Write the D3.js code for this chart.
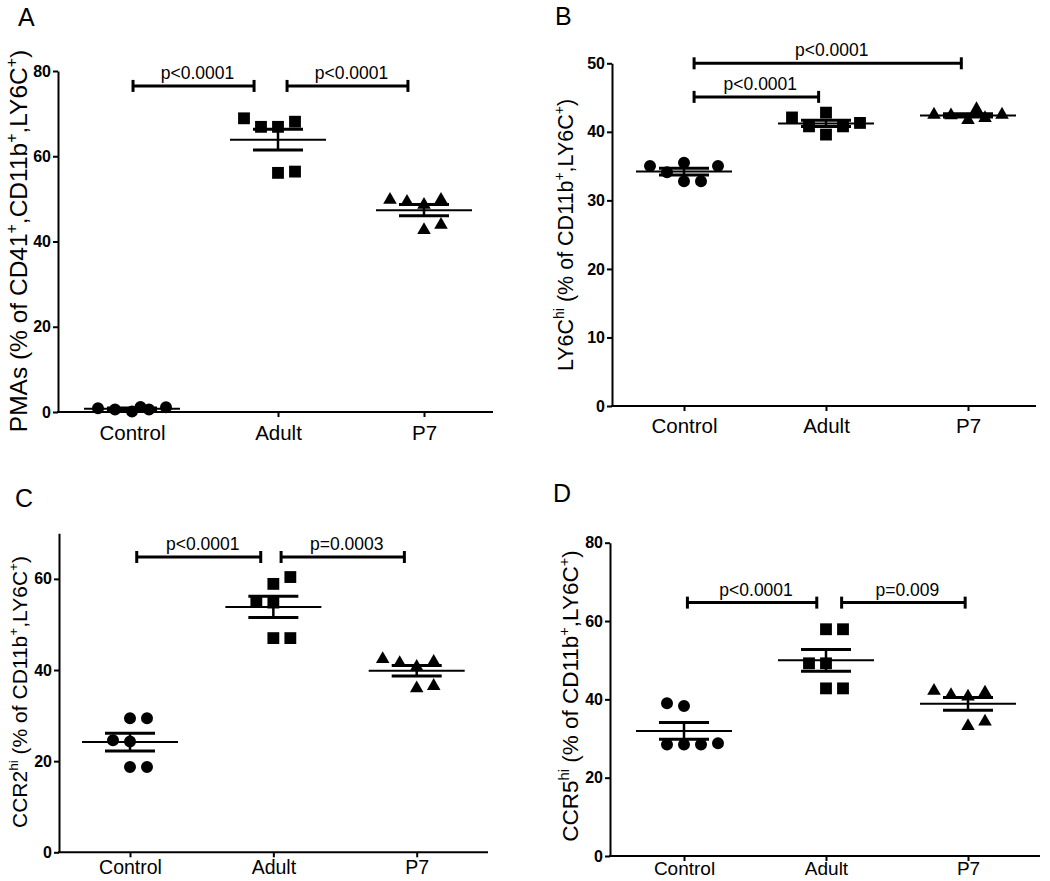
<!DOCTYPE html>
<html><head><meta charset="utf-8">
<script src="https://cdn.jsdelivr.net/npm/d3@7"></script>
<style>body{margin:0;background:#fff}svg{display:block}</style>
</head><body>
<svg id="chart" width="1050" height="881"></svg>
<script>
const categories = ["Control", "Adult", "P7"];

// Panel A: PMAs
const pmasControl = [0.9, 0.6, 0.1, 1.2, 0.6, 1.1];
const pmasAdult   = [68.9, 66.9, 66.9, 68.1, 56.1, 56.4];
const pmasP7      = [49.8, 49.3, 48.6, 49.8, 42.7, 43.9];
// Panel B: LY6C hi
const ly6cControl = [35.0, 34.1, 35.5, 32.8, 32.8, 35.0];
const ly6cAdult   = [42.1, 40.8, 42.8, 39.6, 40.8, 41.3];
const ly6cP7      = [42.5, 42.4, 41.7, 43.3, 42.0, 42.5];
// Panel C: CCR2 hi
const ccr2Control = [24.6, 24.3, 29.4, 29.4, 18.7, 18.7];
const ccr2Adult   = [55.0, 54.8, 58.9, 60.4, 47.0, 47.0];
const ccr2P7      = [42.4, 41.5, 40.7, 41.8, 36.0, 36.5];
// Panel D: CCR5 hi
const ccr5Control = [39.0, 38.3, 28.5, 28.5, 28.5, 28.8];
const ccr5Adult   = [49.2, 49.2, 57.9, 57.9, 42.8, 42.8];
const ccr5P7      = [42.2, 41.1, 40.7, 41.7, 33.2, 34.3];

// scatter spread columns (in marker steps) per group
const colsA = [[-2,-1,0,0.5,1,2], [-2,-1,0,1,0,1], [-2,-1,0,1,0,1]];
const colsB = [[-2,-1,0,0,1,2], [-2,-1,0,0,1,2], [-2,-1,0,0.5,1,2]];
const colsC = [[-1,0,0,1,0,1], [-1,0,0,1,0,1], [-2,-1,0,1,0,1]];
const colsD = [[-1,0,-1,0,1,2], [-1,0,0,1,0,1], [-2,-1,0,1,0,1]];

// y ticks
const ticksA = [0, 20, 40, 60, 80];
const ticksB = [0, 10, 20, 30, 40, 50];
const ticksC = [0, 20, 40, 60];
const ticksD = [0, 20, 40, 60, 80];

// significance brackets: [from category index, to category index, value, label]
const bracketsA = [[0.007, 0.836, 76.5, "p<0.0001"], [1.062, 1.890, 76.5, "p<0.0001"]];
const bracketsB = [[0.071, 1.953, 50.0, "p<0.0001"], [0.071, 0.948, 45.1, "p<0.0001"]];
const bracketsC = [[0.047, 0.912, 64.8, "p<0.0001"], [1.054, 1.914, 64.8, "p=0.0003"]];
const bracketsD = [[0.024, 0.935, 64.7, "p<0.0001"], [1.110, 1.980, 64.7, "p=0.009"]];

// y-axis titles: [text, isSuperscript]
const titleA = [["PMAs (% of CD41",0],["+",1],[",CD11b",0],["+",1],[",LY6C",0],["+",1],[")",0]];
const titleB = [["LY6C",0],["hi",1],[" (% of CD11b",0],["+",1],[",LY6C",0],["+",1],[")",0]];
const titleC = [["CCR2",0],["hi",1],[" (% of CD11b",0],["+",1],[",LY6C",0],["+",1],[")",0]];
const titleD = [["CCR5",0],["hi",1],[" (% of CD11b",0],["+",1],[",LY6C",0],["+",1],[")",0]];

const svg = d3.select("#chart");
const FONT = "'Liberation Sans', Arial, Helvetica, sans-serif";
const shapes = [d3.symbolCircle, d3.symbolSquare, d3.symbolTriangle];
const sizes = [113, 140, 80];

function panel(cfg) {
  const g = svg.append("g");
  const y = d3.scaleLinear().domain([0, cfg.ymax]).range([cfg.y0, cfg.ytop]);
  const x = d3.scaleLinear().domain([0, 2]).range([cfg.c0, cfg.c2]);

  // panel letter
  g.append("text").attr("x", cfg.lx).attr("y", cfg.ly)
    .attr("font-family", FONT).attr("font-size", 25).text(cfg.letter);

  // y axis
  const ya = g.append("g").attr("transform", `translate(${cfg.ax},0)`)
    .call(d3.axisLeft(y).tickValues(cfg.ticks).tickSize(5).tickSizeOuter(0).tickPadding(2));
  ya.select(".domain").attr("stroke-width", 2);
  ya.selectAll(".tick line").attr("stroke-width", 2);
  ya.selectAll(".tick text").attr("font-family", FONT).attr("font-size", 16)
    .attr("font-weight", "bold").attr("fill", "#000");

  // x axis
  g.append("line").attr("x1", cfg.ax - 1).attr("x2", cfg.xend)
    .attr("y1", cfg.y0).attr("y2", cfg.y0).attr("stroke", "#000").attr("stroke-width", 2);
  const xa = g.append("g").attr("transform", `translate(0,${cfg.y0})`)
    .call(d3.axisBottom(x).tickValues([0, 1, 2]).tickFormat(i => categories[i])
      .tickSize(5).tickSizeOuter(0).tickPadding(cfg.xpad));
  xa.select(".domain").remove();
  xa.selectAll(".tick line").attr("stroke-width", 2);
  xa.selectAll(".tick text").attr("font-family", FONT).attr("font-size", cfg.xfs).attr("fill", "#000");

  // y title
  const t = g.append("text")
    .attr("transform", `translate(${cfg.tx},${cfg.ty}) rotate(-90)`)
    .attr("text-anchor", "middle").attr("font-family", FONT).attr("font-size", cfg.tfs).attr("fill", "#000");
  let prevSup = 0;
  cfg.title.forEach(([s, sup]) => {
    const ts = t.append("tspan").text(s);
    if (sup) ts.attr("font-size", cfg.tfs * 0.65).attr("dy", -cfg.tfs * 0.42);
    else if (prevSup) ts.attr("dy", cfg.tfs * 0.42);
    prevSup = sup;
  });

  // points
  const step = 17;
  cfg.groups.forEach((vals, gi) => {
    const sym = d3.symbol().type(shapes[gi]).size(sizes[gi]);
    g.append("g").selectAll("path").data(vals).join("path")
      .attr("d", sym)
      .attr("transform", (v, j) => `translate(${x(gi) + cfg.cols[gi][j] * step},${y(v)})`)
      .attr("fill", "#000");
  });

  // mean and SEM
  cfg.groups.forEach((vals, gi) => {
    const m = d3.mean(vals);
    const sem = d3.deviation(vals) / Math.sqrt(vals.length);
    const cx = x(gi);
    const lg = g.append("g").attr("stroke", "#000");
    lg.append("line").attr("x1", cx - 48).attr("x2", cx + 48)
      .attr("y1", y(m)).attr("y2", y(m)).attr("stroke-width", 2);
    [m - sem, m + sem].forEach(v => {
      lg.append("line").attr("x1", cx - 25).attr("x2", cx + 25)
        .attr("y1", y(v)).attr("y2", y(v)).attr("stroke-width", 3);
    });
    lg.append("line").attr("x1", cx).attr("x2", cx)
      .attr("y1", y(m - sem)).attr("y2", y(m + sem)).attr("stroke-width", 2.5);
  });

  // brackets
  cfg.brackets.forEach(([a, b, v, lab]) => {
    const yy = y(v), x1 = x(a), x2 = x(b);
    const bg = g.append("g").attr("stroke", "#000").attr("stroke-width", 3);
    bg.append("line").attr("x1", x1).attr("x2", x2).attr("y1", yy).attr("y2", yy);
    bg.append("line").attr("x1", x1).attr("x2", x1).attr("y1", yy - 6).attr("y2", yy + 6);
    bg.append("line").attr("x1", x2).attr("x2", x2).attr("y1", yy - 6).attr("y2", yy + 6);
    g.append("text").attr("x", (x1 + x2) / 2 + 4).attr("y", yy - 7)
      .attr("text-anchor", "middle").attr("font-family", FONT).attr("font-size", 17.5)
      .attr("fill", "#000").text(lab);
  });
}

panel({letter: "A", lx: 18, ly: 26, ax: 58, ytop: 71, y0: 412, ymax: 80, xend: 493,
  c0: 132, c2: 424, ticks: ticksA, groups: [pmasControl, pmasAdult, pmasP7], cols: colsA,
  brackets: bracketsA, title: titleA, tx: 27, ty: 241, tfs: 24.5, xpad: 8, xfs: 20.5});
panel({letter: "B", lx: 555, ly: 25, ax: 612, ytop: 63.3, y0: 406, ymax: 50, xend: 1036,
  c0: 684, c2: 968, ticks: ticksB, groups: [ly6cControl, ly6cAdult, ly6cP7], cols: colsB,
  brackets: bracketsB, title: titleB, tx: 573, ty: 235, tfs: 21.5, xpad: 7, xfs: 20.5});
panel({letter: "C", lx: 15, ly: 507, ax: 59, ytop: 533.3, y0: 852.3, ymax: 70, xend: 488,
  c0: 130, c2: 416.7, ticks: ticksC, groups: [ccr2Control, ccr2Adult, ccr2P7], cols: colsC,
  brackets: bracketsC, title: titleC, tx: 27, ty: 692, tfs: 21, xpad: 3, xfs: 19.5});
panel({letter: "D", lx: 553, ly: 502, ax: 610, ytop: 542.7, y0: 856, ymax: 80, xend: 1040,
  c0: 684, c2: 968, ticks: ticksD, groups: [ccr5Control, ccr5Adult, ccr5P7], cols: colsD,
  brackets: bracketsD, title: titleD, tx: 578, ty: 696, tfs: 22.5, xpad: 1, xfs: 19});
</script>
</body></html>
